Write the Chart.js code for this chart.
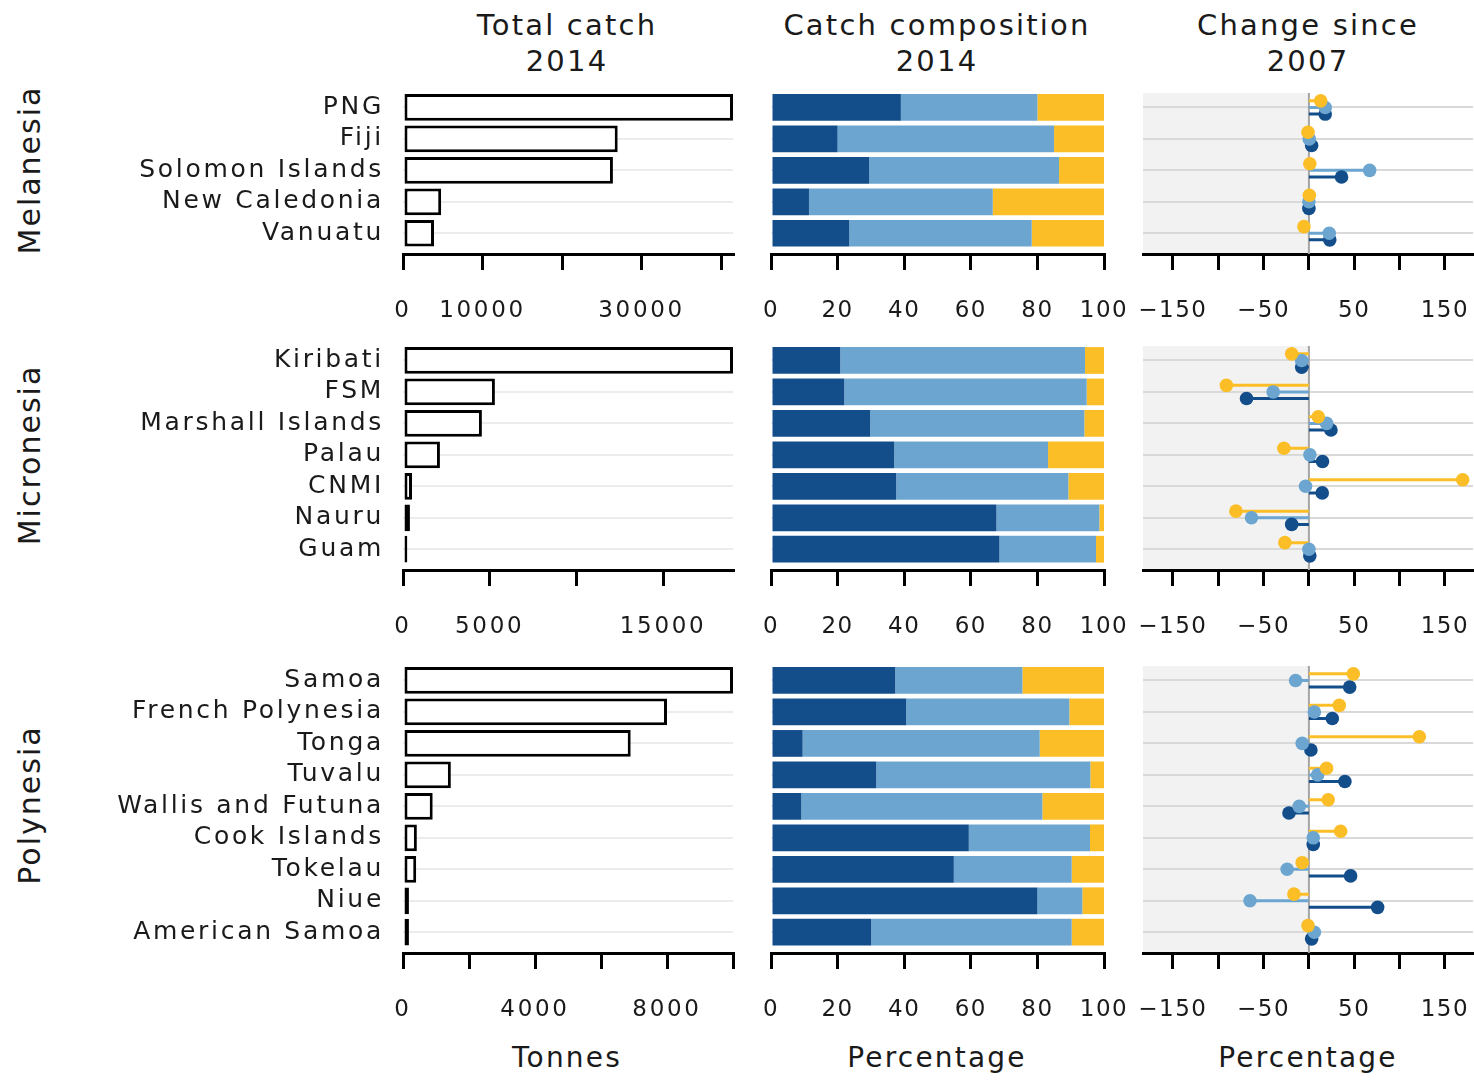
<!DOCTYPE html>
<html>
<head>
<meta charset="utf-8">
<script src="https://cdn.jsdelivr.net/npm/chart.js@4.4.0/dist/chart.umd.min.js"></script>
<style>
body { margin: 0; background: #fff; width: 1474px; height: 1080px; position: relative; overflow: hidden; font-family: "DejaVu Sans", sans-serif; color: #1a1a1a; }
canvas { position: absolute; }
.title { position: absolute; width: 420px; text-align: center; font-size: 29px; line-height: 36px; letter-spacing: 2.2px; }
.region { position: absolute; width: 300px; height: 36px; line-height: 36px; text-align: center; font-size: 30px; letter-spacing: 2px; transform: rotate(-90deg); }
.axtitle { position: absolute; width: 300px; text-align: center; font-size: 28px; letter-spacing: 2.2px; }
</style>
</head>
<body>

<div class="title" style="left:357px; top:7px;">Total catch<br>2014</div>
<div class="title" style="left:727px; top:7px;">Catch composition<br>2014</div>
<div class="title" style="left:1098px; top:7px;">Change since<br>2007</div>

<div class="region" style="left:-120px; top:152px;">Melanesia</div>
<div class="region" style="left:-120px; top:437px;">Micronesia</div>
<div class="region" style="left:-120px; top:787px;">Polynesia</div>

<div class="axtitle" style="left:417px; top:1041px;">Tonnes</div>
<div class="axtitle" style="left:787px; top:1041px;">Percentage</div>
<div class="axtitle" style="left:1158px; top:1041px;">Percentage</div>

<canvas id="meTotal" width="660" height="281" style="left:100px; top:48px;"></canvas>
<canvas id="meComp" width="440" height="246" style="left:720px; top:83px;"></canvas>
<canvas id="meChange" width="410" height="246" style="left:1103px; top:83px;"></canvas>

<canvas id="miTotal" width="660" height="344" style="left:100px; top:301px;"></canvas>
<canvas id="miComp" width="440" height="309" style="left:720px; top:336px;"></canvas>
<canvas id="miChange" width="410" height="309" style="left:1103px; top:336px;"></canvas>

<canvas id="poTotal" width="660" height="407" style="left:100px; top:621px;"></canvas>
<canvas id="poComp" width="440" height="372" style="left:720px; top:656px;"></canvas>
<canvas id="poChange" width="410" height="372" style="left:1103px; top:656px;"></canvas>

<script>
var melanesia = ['PNG', 'Fiji', 'Solomon Islands', 'New Caledonia', 'Vanuatu'];
var micronesia = ['Kiribati', 'FSM', 'Marshall Islands', 'Palau', 'CNMI', 'Nauru', 'Guam'];
var polynesia = ['Samoa', 'French Polynesia', 'Tonga', 'Tuvalu', 'Wallis and Futuna', 'Cook Islands', 'Tokelau', 'Niue', 'American Samoa'];

// total catch 2014 (tonnes)
var meCatch = [41500, 27000, 26400, 4800, 3900];
var miCatch = [19030, 5300, 4550, 2130, 520, 400, 250];
var poCatch = [10000, 8000, 6900, 1450, 900, 420, 400, 180, 180];

// catch composition 2014 (%)
var meNavy = [39, 20, 29.5, 11.4, 23.5];
var meSky = [41, 65, 57, 55.2, 54.8];
var meGold = [20, 15, 13.5, 33.4, 21.7];
var miNavy = [20.8, 22, 29.8, 37, 37.6, 67.7, 68.6];
var miSky = [73.5, 72.8, 64.3, 46.2, 51.7, 30.9, 29];
var miGold = [5.7, 5.2, 5.9, 16.8, 10.7, 1.4, 2.4];
var poNavy = [37.3, 40.6, 9.5, 31.6, 9.1, 59.4, 54.9, 80, 30.1];
var poSky = [38.2, 49, 71.2, 64.3, 72.4, 36.4, 35.4, 13.5, 60.2];
var poGold = [24.5, 10.4, 19.3, 4.1, 18.5, 4.2, 9.7, 6.5, 9.7];

// change since 2007 (%)
var meChgGold = [13, -1, 1, 0.5, -5.5];
var meChgSky = [18, 0.4, 67, 0, 22.4];
var meChgNavy = [18, 3, 36, 0, 23];
var miChgGold = [-19, -91, 10.3, -27.6, 169.6, -80.5, -26.5];
var miChgSky = [-8, -39.4, 19.5, 1.1, -3.7, -63.3, 0];
var miChgNavy = [-8, -68.8, 24.3, 15, 14.7, -19, 1];
var poChgGold = [49, 33.5, 121.8, 19.5, 21.3, 35, -7.4, -16.5, -1];
var poChgSky = [-14.7, 6, -7.4, 9.6, -10.7, 4.8, -24, -65, 6];
var poChgNavy = [45, 25.8, 2.2, 39.7, -22, 4.8, 46, 75.8, 3];

// axis ticks
var meTicks = [0, 10000, 20000, 30000, 40000];
var meTickText = ['0', '10000', '', '30000', ''];
var miTicks = [0, 5000, 10000, 15000];
var miTickText = ['0', '5000', '', '15000'];
var poTicks = [0, 2000, 4000, 6000, 8000, 10000];
var poTickText = ['0', '', '4000', '', '8000', ''];
var pctTicks = [0, 20, 40, 60, 80, 100];
var pctTickText = ['0', '20', '40', '60', '80', '100'];
var chgTicks = [-150, -100, -50, 0, 50, 100, 150];
var chgTickText = ['\u2212150', '', '\u221250', '', '50', '', '150'];
var chgMin = -183;
var chgMax = 181;

var navy = '#134e8b';
var sky = '#6ca6d0';
var gold = '#fbbe26';

Chart.defaults.font.family = '"DejaVu Sans", sans-serif';
Chart.defaults.color = '#1a1a1a';

var spacing = {
    id: 'spacing',
    beforeDraw: function(chart) { chart.ctx.letterSpacing = '1.5px'; }
};

var nameSpacing = {
    id: 'nameSpacing',
    beforeDraw: function(chart) { chart.ctx.letterSpacing = '2.7px'; }
};

var shade = {
    id: 'shade',
    beforeDraw: function(chart) {
        var a = chart.chartArea;
        var x0 = chart.scales.x.getPixelForValue(0);
        var ctx = chart.ctx;
        ctx.save();
        ctx.fillStyle = '#f2f2f2';
        ctx.fillRect(a.left, a.top, x0 - a.left, a.bottom - a.top);
        ctx.restore();
    },
    beforeDatasetsDraw: function(chart) {
        var a = chart.chartArea;
        var x0 = chart.scales.x.getPixelForValue(0);
        var ctx = chart.ctx;
        ctx.save();
        ctx.strokeStyle = '#a5a5a5';
        ctx.lineWidth = 2;
        ctx.beginPath();
        ctx.moveTo(x0, a.top);
        ctx.lineTo(x0, a.bottom);
        ctx.stroke();
        ctx.restore();
    }
};

function xAxis(min, max, ticks, tickText) {
    return {
        type: 'linear',
        min: min,
        max: max,
        offset: false,
        afterBuildTicks: function(s) { s.ticks = ticks.map(function(v) { return {value: v}; }); },
        afterFit: function(s) { s.height = 75; },
        grid: {drawOnChartArea: false, drawTicks: true, tickLength: 16, color: '#000', lineWidth: 3, offset: false},
        border: {color: '#000', width: 3},
        ticks: {
            padding: 27,
            font: {size: 23},
            color: '#1a1a1a',
            maxRotation: 0,
            autoSkip: false,
            callback: function(v, i) { return tickText[i]; }
        }
    };
}

function yAxis(names, showNames, gridColor) {
    return {
        type: 'linear',
        reverse: true,
        offset: false,
        min: -0.46,
        max: names.length - 1 + 0.66,
        stacked: true,
        afterBuildTicks: function(s) { s.ticks = names.map(function(n, i) { return {value: i}; }); },
        afterFit: function(s) { s.width = showNames ? 303 : 0; },
        grid: {color: gridColor, lineWidth: 2, drawTicks: false, offset: false},
        border: {display: false},
        ticks: {
            display: showNames,
            padding: 19,
            font: {size: 25},
            color: '#1a1a1a',
            autoSkip: false,
            callback: function(v, i) { return names[i]; }
        }
    };
}

function points(values) {
    return values.map(function(v, i) { return {x: v, y: i}; });
}

function totalChart(id, names, values, ticks, tickText) {
    var max = Math.max.apply(null, values);
    new Chart(document.getElementById(id), {
        type: 'bar',
        data: {
            datasets: [{
                data: points(values),
                backgroundColor: '#fff',
                borderColor: '#000',
                borderWidth: 3,
                borderSkipped: false,
                barPercentage: 0.85,
                categoryPercentage: 1
            }]
        },
        options: {
            indexAxis: 'y',
            responsive: false,
            animation: false,
            // the name labels ask for room above the plot, so the canvas starts higher
            layout: {padding: {top: 45, left: 0, right: 27, bottom: 0}},
            plugins: {legend: {display: false}, tooltip: {enabled: false}},
            scales: {x: xAxis(0, max, ticks, tickText), y: yAxis(names, true, '#ececec')}
        },
        plugins: [nameSpacing]
    });
}

function compChart(id, names, navyVals, skyVals, goldVals) {
    var sets = [[navyVals, navy], [skyVals, sky], [goldVals, gold]].map(function(p) {
        return {
            data: points(p[0]),
            backgroundColor: p[1],
            borderWidth: 0,
            barPercentage: 0.85,
            categoryPercentage: 1
        };
    });
    var x = xAxis(0, 100, pctTicks, pctTickText);
    x.stacked = true;
    new Chart(document.getElementById(id), {
        type: 'bar',
        data: {datasets: sets},
        options: {
            indexAxis: 'y',
            responsive: false,
            animation: false,
            layout: {padding: {top: 10, left: 51, right: 56, bottom: 0}},
            plugins: {legend: {display: false}, tooltip: {enabled: false}},
            scales: {x: x, y: yAxis(names, false, '#ececec')}
        },
        plugins: [spacing]
    });
}

function changeChart(id, names, goldVals, skyVals, navyVals) {
    var sets = [];
    [[goldVals, gold, -0.21], [skyVals, sky, 0], [navyVals, navy, 0.21]].forEach(function(p) {
        var stem = [];
        var dots = [];
        p[0].forEach(function(v, i) {
            stem.push({x: 0, y: i + p[2]}, {x: v, y: i + p[2]}, {x: NaN, y: NaN});
            dots.push({x: v, y: i + p[2]});
        });
        sets.push({data: stem, showLine: true, borderColor: p[1], borderWidth: 3, pointRadius: 0, spanGaps: false, order: 2});
        sets.push({data: dots, backgroundColor: p[1], borderWidth: 0, pointRadius: 6.8, order: 1});
    });
    var y = yAxis(names, false, '#d9d9d9');
    y.stacked = false;
    new Chart(document.getElementById(id), {
        type: 'scatter',
        data: {datasets: sets},
        options: {
            responsive: false,
            animation: false,
            layout: {padding: {top: 10, left: 40, right: 40, bottom: 0}},
            plugins: {legend: {display: false}, tooltip: {enabled: false}},
            scales: {x: xAxis(chgMin, chgMax, chgTicks, chgTickText), y: y}
        },
        plugins: [shade, spacing]
    });
}

totalChart('meTotal', melanesia, meCatch, meTicks, meTickText);
totalChart('miTotal', micronesia, miCatch, miTicks, miTickText);
totalChart('poTotal', polynesia, poCatch, poTicks, poTickText);

compChart('meComp', melanesia, meNavy, meSky, meGold);
compChart('miComp', micronesia, miNavy, miSky, miGold);
compChart('poComp', polynesia, poNavy, poSky, poGold);

changeChart('meChange', melanesia, meChgGold, meChgSky, meChgNavy);
changeChart('miChange', micronesia, miChgGold, miChgSky, miChgNavy);
changeChart('poChange', polynesia, poChgGold, poChgSky, poChgNavy);
</script>
</body>
</html>
